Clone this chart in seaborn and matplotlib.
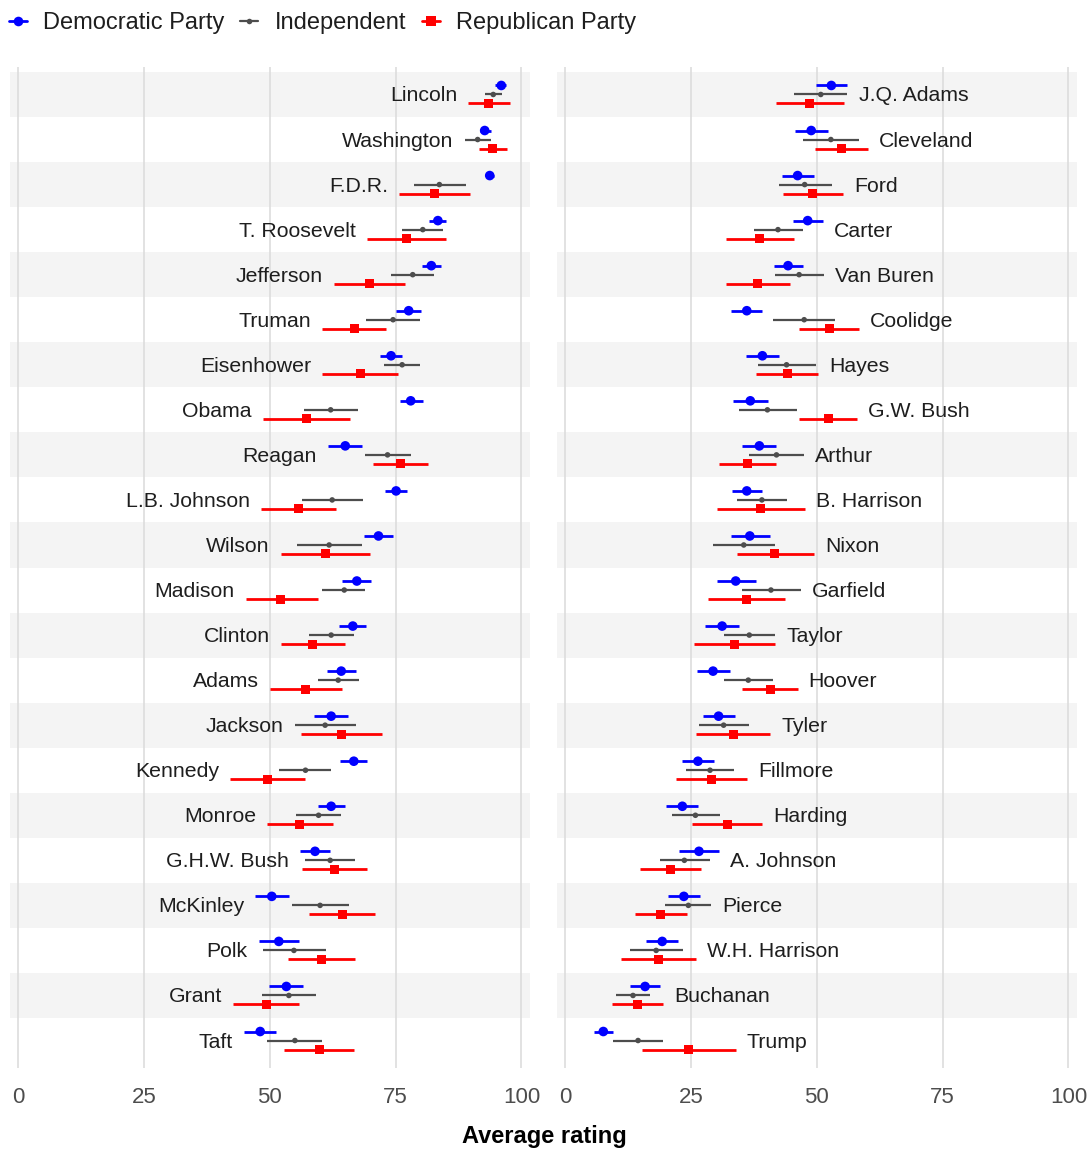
import numpy as np
import pandas as pd
import matplotlib
matplotlib.use("Agg")
import matplotlib.pyplot as plt
from matplotlib.lines import Line2D
import seaborn as sns

# presidents, ordered top-to-bottom: first 22 in the left panel, rest in the right
presidents = [
    "Lincoln", "Washington", "F.D.R.", "T. Roosevelt", "Jefferson", "Truman",
    "Eisenhower", "Obama", "Reagan", "L.B. Johnson", "Wilson", "Madison",
    "Clinton", "Adams", "Jackson", "Kennedy", "Monroe", "G.H.W. Bush",
    "McKinley", "Polk", "Grant", "Taft",
    "J.Q. Adams", "Cleveland", "Ford", "Carter", "Van Buren", "Coolidge",
    "Hayes", "G.W. Bush", "Arthur", "B. Harrison", "Nixon", "Garfield",
    "Taylor", "Hoover", "Tyler", "Fillmore", "Harding", "A. Johnson",
    "Pierce", "W.H. Harrison", "Buchanan", "Trump",
]

dem = [96.0, 92.7, 93.7, 83.4, 82.1, 77.6, 74.1, 78.0, 65.0, 75.1, 71.6, 67.3,
       66.5, 64.2, 62.2, 66.7, 62.2, 59.0, 50.4, 51.8, 53.3, 48.1,
       52.9, 48.9, 46.2, 48.2, 44.3, 36.1, 39.2, 36.8, 38.6, 36.1, 36.7, 33.9,
       31.2, 29.4, 30.5, 26.4, 23.3, 26.6, 23.6, 19.3, 15.9, 7.6]
dem_lo = [94.8, 91.7, 92.9, 81.7, 80.2, 75.1, 72.0, 75.9, 61.6, 72.8, 68.7, 64.4,
          63.8, 61.3, 58.7, 63.9, 59.5, 56.0, 47.1, 47.8, 49.9, 44.9,
          49.9, 45.6, 43.1, 45.3, 41.5, 32.9, 35.9, 33.4, 35.2, 33.1, 32.9, 30.1,
          27.9, 26.2, 27.4, 23.3, 20.1, 22.7, 20.5, 16.1, 12.9, 5.7]
dem_hi = [97.0, 93.9, 94.6, 85.1, 84.0, 80.1, 76.3, 80.4, 68.4, 77.3, 74.5, 70.2,
          69.2, 67.1, 65.6, 69.4, 65.0, 62.0, 53.8, 55.9, 56.7, 51.3,
          56.0, 52.3, 49.5, 51.2, 47.2, 39.2, 42.5, 40.3, 41.9, 39.1, 40.8, 37.9,
          34.6, 32.7, 33.7, 29.5, 26.4, 30.6, 26.8, 22.4, 18.9, 9.5]

ind = [94.4, 91.3, 83.7, 80.4, 78.4, 74.5, 76.3, 62.1, 73.4, 62.4, 61.8, 64.8,
       62.2, 63.6, 61.0, 57.1, 59.7, 62.0, 60.0, 54.8, 53.8, 55.0,
       50.8, 52.8, 47.6, 42.3, 46.5, 47.5, 44.0, 40.2, 42.0, 39.1, 35.5, 40.9,
       36.6, 36.4, 31.5, 28.8, 25.9, 23.7, 24.5, 18.1, 13.5, 14.5]
ind_lo = [92.7, 88.7, 78.6, 76.3, 74.1, 69.2, 72.7, 56.9, 68.9, 56.4, 55.5, 60.4,
          57.7, 59.6, 55.0, 51.8, 55.2, 57.1, 54.5, 48.7, 48.5, 49.5,
          45.5, 47.3, 42.5, 37.5, 41.7, 41.3, 38.3, 34.5, 36.6, 34.2, 29.4, 35.1,
          31.6, 31.6, 26.6, 24.1, 21.3, 18.8, 19.9, 12.9, 10.1, 9.6]
ind_hi = [96.1, 93.9, 88.9, 84.5, 82.6, 79.9, 79.9, 67.5, 78.0, 68.5, 68.3, 69.0,
          66.7, 67.7, 67.1, 62.2, 64.2, 67.0, 65.7, 61.1, 59.1, 60.3,
          56.1, 58.3, 53.0, 47.3, 51.4, 53.7, 49.8, 46.1, 47.4, 44.1, 41.7, 46.9,
          41.7, 41.3, 36.5, 33.6, 30.7, 28.7, 29.0, 23.4, 16.9, 19.5]

rep = [93.5, 94.3, 82.8, 77.2, 69.8, 66.9, 68.0, 57.3, 75.9, 55.7, 61.1, 52.2,
       58.5, 57.1, 64.2, 49.6, 56.0, 62.9, 64.4, 60.3, 49.3, 59.9,
       48.6, 54.9, 49.2, 38.7, 38.2, 52.5, 44.1, 52.4, 36.2, 38.9, 41.7, 36.0,
       33.7, 40.8, 33.4, 29.1, 32.2, 20.9, 19.0, 18.6, 14.3, 24.6]
rep_lo = [89.4, 91.5, 75.7, 69.4, 62.7, 60.4, 60.4, 48.6, 70.5, 48.2, 52.2, 45.2,
          52.2, 50.0, 56.3, 42.1, 49.5, 56.4, 57.8, 53.6, 42.7, 52.9,
          42.0, 49.7, 43.3, 32.0, 32.0, 46.4, 38.0, 46.4, 30.6, 30.2, 34.1, 28.4,
          25.6, 35.2, 26.1, 22.1, 25.3, 14.9, 13.8, 11.1, 9.3, 15.2]
rep_hi = [97.8, 97.2, 89.7, 85.1, 76.8, 73.1, 75.5, 66.0, 81.4, 63.2, 70.0, 59.5,
          64.9, 64.4, 72.3, 57.1, 62.6, 69.4, 71.0, 67.0, 55.9, 66.8,
          55.5, 60.2, 55.2, 45.5, 44.7, 58.3, 50.2, 58.0, 41.9, 47.7, 49.4, 43.6,
          41.7, 46.2, 40.7, 36.1, 39.2, 27.0, 24.2, 26.0, 19.4, 33.9]

parties = ["Democratic Party", "Independent", "Republican Party"]
colors = {"Democratic Party": "#0000ff", "Independent": "#4d4d4d", "Republican Party": "#ff0000"}
markers = {"Democratic Party": "o", "Independent": "o", "Republican Party": "s"}
sizes = {"Democratic Party": 48, "Independent": 16, "Republican Party": 42}
offsets = {"Democratic Party": -0.2, "Independent": 0.0, "Republican Party": 0.2}
widths = {"Democratic Party": 2.0, "Independent": 1.6, "Republican Party": 2.0}

panel = [0] * 22 + [1] * 22
row = list(range(22)) * 2

frames = []
for p, m, lo, hi in zip(parties, [dem, ind, rep], [dem_lo, ind_lo, rep_lo], [dem_hi, ind_hi, rep_hi]):
    frames.append(pd.DataFrame({
        "name": presidents, "panel": panel, "row": row, "party": p,
        "mean": m, "lo": lo, "hi": hi,
    }))
df = pd.concat(frames, ignore_index=True)
df["y"] = df["row"] + df["party"].map(offsets)

sns.set_theme(style="white")
plt.rcParams["font.family"] = ["Liberation Sans", "DejaVu Sans"]

fig = plt.figure(figsize=(10.92, 11.49), dpi=100)
W, H = 1092, 1149
axes = [
    fig.add_axes([10 / W, 81 / H, 520 / W, 1001 / H]),
    fig.add_axes([557 / W, 81 / H, 520 / W, 1001 / H]),
]

for k, ax in enumerate(axes):
    sub = df[df["panel"] == k]
    # alternating stripes
    for r in range(0, 22, 2):
        ax.axhspan(r - 0.5, r + 0.5, color="#f4f4f4", lw=0, zorder=0)
    for gx in [0, 25, 50, 75, 100]:
        ax.axvline(gx, color="#dadada", lw=1.1, zorder=1)

    for p in parties:
        s = sub[sub["party"] == p]
        ax.hlines(s["y"], s["lo"], s["hi"], color=colors[p], lw=widths[p], zorder=2)
    sns.scatterplot(data=sub, x="mean", y="y", hue="party", style="party",
                    size="party", palette=colors, markers=markers, sizes=sizes,
                    linewidth=0, legend=False, ax=ax, zorder=3)

    # president labels
    g = sub.groupby("row").agg(name=("name", "first"), lo=("lo", "min"), hi=("hi", "max"))
    for r, rr in g.iterrows():
        if k == 0:
            ax.text(rr["lo"] - 2.2, r + 0.155, rr["name"], ha="right", va="baseline",
                    fontsize=15.3, color="#1e1e1e")
        else:
            ax.text(rr["hi"] + 2.2, r + 0.155, rr["name"], ha="left", va="baseline",
                    fontsize=15.3, color="#1e1e1e")

    ax.set_xlim(-1.6, 101.7)
    ax.set_ylim(21.61, -0.61)
    ax.set_xticks([0, 25, 50, 75, 100])
    ax.set_yticks([])
    ax.set_xlabel("")
    ax.set_ylabel("")
    ax.tick_params(axis="x", length=0, pad=14, labelsize=16, labelcolor="#4d4d4d")
    for sp in ax.spines.values():
        sp.set_visible(False)

fig.text(0.4985, 1 - 1137 / H, "Average rating", ha="center", va="center",
         fontsize=17, fontweight="bold", color="black")

handles = [Line2D([0], [0], color=colors[p], lw=widths[p], marker=markers[p],
                  markersize=np.sqrt(sizes[p]), markeredgewidth=0) for p in parties]
fig.legend(handles, parties, loc="center left", bbox_to_anchor=(9 / W, 1 - 23 / H),
           ncol=3, frameon=False, fontsize=17, handlelength=0.76, handletextpad=0.68,
           columnspacing=0.68, borderaxespad=0, borderpad=0, labelcolor="#1e1e1e")

fig.savefig("out.png", dpi=100)
